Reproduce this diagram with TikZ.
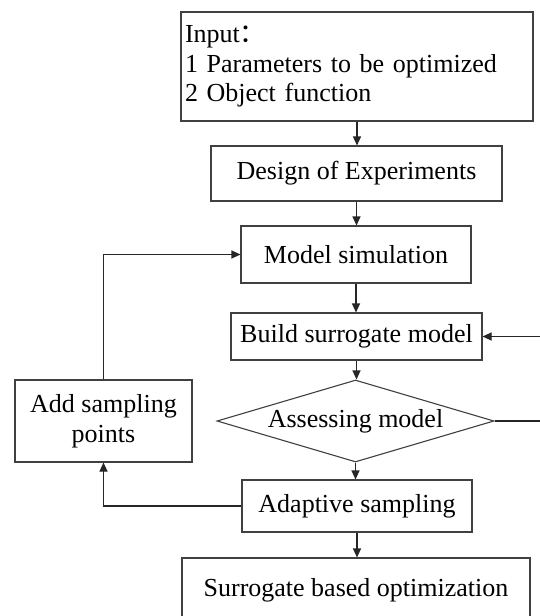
\documentclass[tikz,border=0pt]{standalone}
\usepackage{fontspec}
\setmainfont{Liberation Serif}
\newfontfamily\cjk{Noto Sans CJK SC}
\usetikzlibrary{shapes.geometric,arrows.meta}
\begin{document}
\begin{tikzpicture}[x=1pt,y=-1pt,
  box/.style={draw=black!75, line width=1.1pt, inner sep=0pt, font=\fontsize{26}{29.5}\selectfont, align=center},
  arr/.style={draw=black!85, line width=1.1pt, -{Triangle[length=9pt,width=8pt]}},
  lbl/.style={font=\fontsize{26}{29.5}\selectfont}]
\useasboundingbox (0,0) rectangle (539,616);
\fill[white] (0,0) rectangle (539,616);
\node[box, minimum width=352pt, minimum height=109pt, text width=344pt, align=left] (in) at (357,66.5)
  {Input{\cjk ：}\\1 Parameters to be optimized\\2 Object function};
\node[box, minimum width=291pt, minimum height=55pt] (doe) at (356.5,173.5) {Design of Experiments};
\node[box, minimum width=230pt, minimum height=57pt] (sim) at (356,254.5) {Model simulation};
\node[box, minimum width=251pt, minimum height=47pt] (build) at (356.5,336.5) {Build surrogate model};
\node[box, diamond, aspect=3.38, minimum width=277pt, minimum height=82pt,
  label={[lbl]center:Assessing model}] (assess) at (355.5,421) {};
\node[box, minimum width=177pt, minimum height=82pt] (add) at (103.5,421) {Add sampling\\points};
\node[box, minimum width=230pt, minimum height=52pt] (adapt) at (357,506) {Adaptive sampling};
\node[box, minimum width=348pt, minimum height=64pt] (sbo) at (356,590) {Surrogate based optimization};
\draw[arr] (in.south) -- (in.south |- doe.north);
\draw[arr] (doe.south) -- (doe.south |- sim.north);
\draw[arr] (sim.south) -- (sim.south |- build.north);
\draw[arr] (build.south) -- (build.south |- assess.north);
\draw[arr] (assess.south) -- (assess.south |- adapt.north);
\draw[arr] (adapt.south) -- (adapt.south |- sbo.north);
\draw[arr] (adapt.west) -| (add.south);
\draw[arr] (add.north) |- (sim.west);
\draw[arr] (assess.east) -- ++(60,0) |- (build.east);
\end{tikzpicture}
\end{document}
